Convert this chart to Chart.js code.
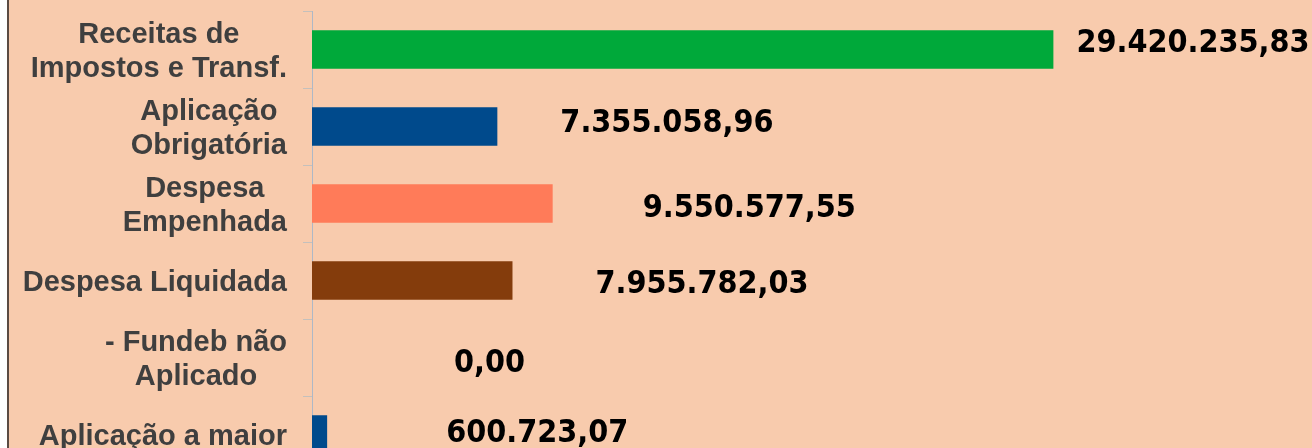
<!DOCTYPE html>
<html>
<head>
<meta charset="utf-8">
<script src="https://cdn.jsdelivr.net/npm/chart.js@4/dist/chart.umd.min.js"></script>
<style>
  html, body { margin: 0; padding: 0; background: #ffffff; overflow: hidden; width: 1312px; height: 448px; }
  #wrap { position: absolute; left: 7px; top: 0; width: 1311px; height: 480px; background: #F8CBAD; border-left: 2px solid #5B4B43; }
  #fundeb { display: block; }
</style>
</head>
<body>
<div id="wrap"><canvas id="fundeb" width="1311" height="473"></canvas></div>
<script>
// DEFINING VARIABLES

var categorias = [
    ['Receitas de', 'Impostos e Transf.'],
    ['Aplicação', 'Obrigatória'],
    ['Despesa', 'Empenhada'],
    ['Despesa Liquidada'],
    ['- Fundeb não', 'Aplicado'],
    ['Aplicação a maior']
];
var valores = [29420235.83, 7355058.96, 9550577.55, 7955782.03, 0, 600723.07];
var cores = ['#00A93A', '#004A8C', '#FF7B59', '#843C0C', '#004A8C', '#004A8C'];

// formato brasileiro 1.234.567,89
function formataBR(v) {
    var partes = v.toFixed(2).split('.');
    var inteiro = partes[0].replace(/\B(?=(\d{3})+(?!\d))/g, '.');
    return inteiro + ',' + partes[1];
}

// rotulos das categorias (linhas centralizadas entre si, bloco alinhado ao eixo)
var rotulosEixo = {
    id: 'rotulosEixo',
    afterDraw: function(chart) {
        var c = chart.ctx;
        var y = chart.scales.y;
        var lh = 33.5;
        var capH = 21;
        c.save();
        c.font = 'bold 29px "Liberation Sans", Arial, sans-serif';
        c.fillStyle = '#3F3F3F';
        c.textAlign = 'center';
        c.textBaseline = 'alphabetic';
        categorias.forEach(function(linhas, i) {
            var maior = 0;
            linhas.forEach(function(t) { maior = Math.max(maior, c.measureText(t).width); });
            var cx = y.right - 25 - maior / 2;
            var cy = y.getPixelForTick(i);
            var y0 = cy - (linhas.length - 1) * lh / 2 + capH / 2;
            linhas.forEach(function(t, k) {
                c.fillText(t, cx, y0 + k * lh);
            });
        });
        c.restore();
    }
};

// valores ao lado das barras
var rotulosValor = {
    id: 'rotulosValor',
    afterDatasetsDraw: function(chart, args, opts) {
        var c = chart.ctx;
        var meta = chart.getDatasetMeta(0);
        c.save();
        c.font = 'bold 32px "DejaVu Sans Condensed", "DejaVu Sans", sans-serif';
        c.fillStyle = '#000000';
        c.textAlign = 'left';
        c.textBaseline = 'alphabetic';
        meta.data.forEach(function(bar, i) {
            c.fillText(formataBR(valores[i]), bar.x + opts.dx[i], bar.y + opts.dy[i]);
        });
        c.restore();
    }
};

document.addEventListener('DOMContentLoaded', function(){

var ctx = document.getElementById('fundeb').getContext('2d');

var chart = new Chart(ctx, {
    type: 'bar',
    data: {
        labels: categorias,
        datasets: [{
            data: valores,
            backgroundColor: cores,
            borderWidth: 0,
            barPercentage: 0.5,
            categoryPercentage: 1
        }]
    },
    plugins: [rotulosEixo, rotulosValor],
    options: {
        indexAxis: 'y',
        responsive: false,
        animation: false,
        layout: { padding: { top: 11, right: 0, bottom: 0, left: 0 } },
        plugins: {
            legend: { display: false },
            tooltip: { enabled: false },
            rotulosValor: {
                dx: [23, 63, 90, 83, 142, 119],
                dy: [2, 5, 13, 12, 14, 7]
            }
        },
        scales: {
            x: {
                display: false,
                min: 0,
                max: 40000000
            },
            y: {
                afterFit: function(scale) { scale.width = 303; },
                ticks: { display: false },
                grid: {
                    offset: true,
                    drawOnChartArea: false,
                    tickLength: 9,
                    color: '#C4C0BC'
                },
                border: { display: true, color: '#AEB8C6', width: 1 }
            }
        }
    }
});

});
</script>
</body>
</html>
